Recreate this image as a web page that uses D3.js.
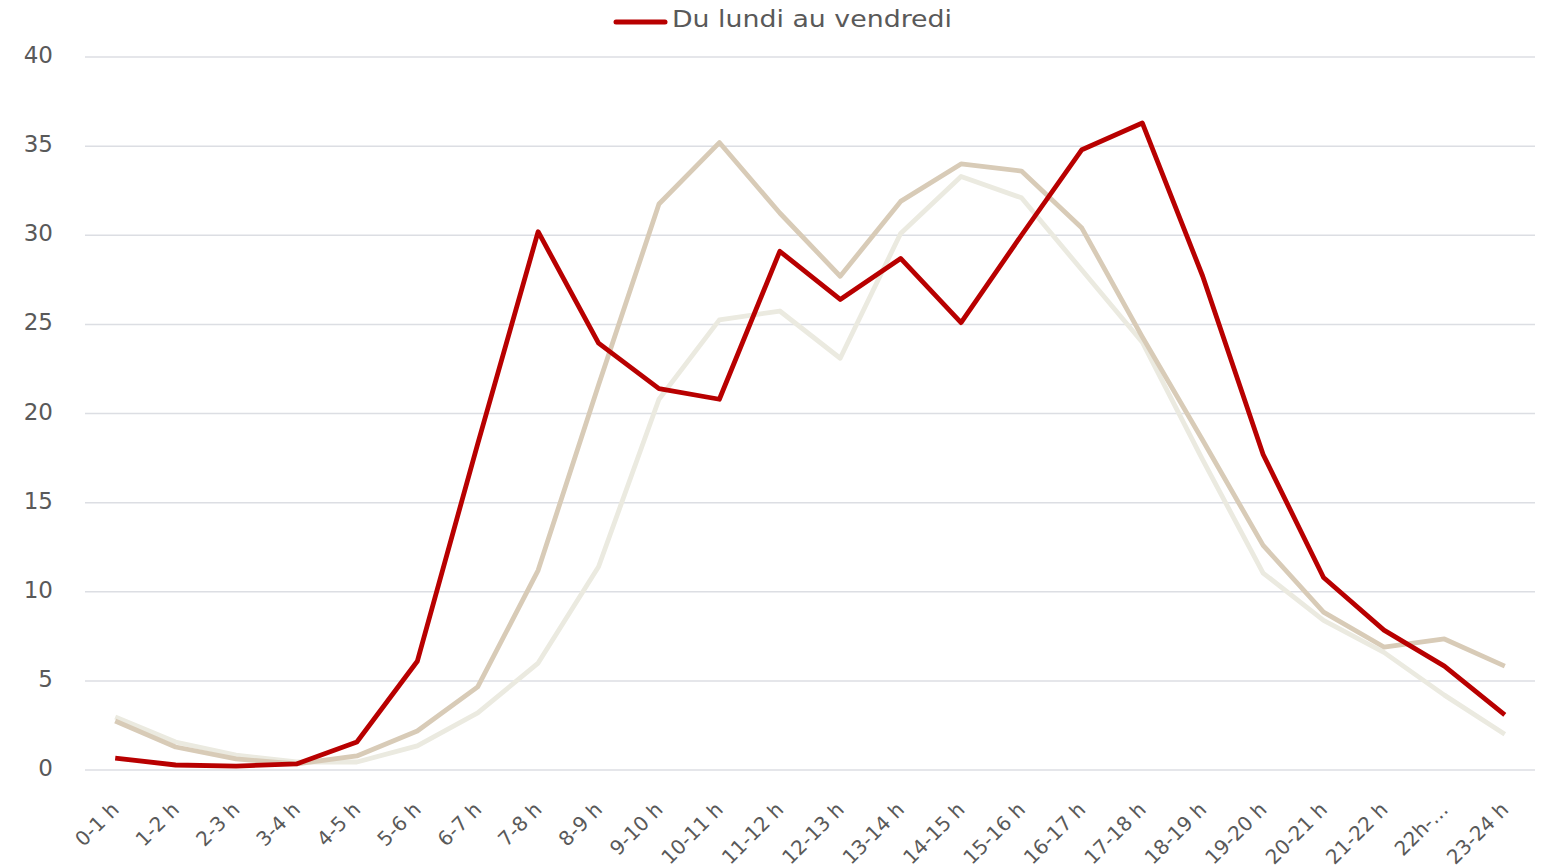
<!DOCTYPE html>
<html>
<head>
  <meta charset="utf-8">
  <script src="https://d3js.org/d3.v7.min.js"></script>
  <style>
    body { margin: 0; background: #fff; }
    text { font-family: "DejaVu Sans", sans-serif; fill: #595959; }
  </style>
</head>
<body>
  <div id="chart"></div>
  <script type="text/javascript">
  var hours = ["0-1 h","1-2 h","2-3 h","3-4 h","4-5 h","5-6 h","6-7 h","7-8 h","8-9 h","9-10 h",
               "10-11 h","11-12 h","12-13 h","13-14 h","14-15 h","15-16 h","16-17 h","17-18 h",
               "18-19 h","19-20 h","20-21 h","21-22 h","22h-…","23-24 h"];
  var semaine = [0.67,0.28,0.22,0.34,1.57,6.1,18.3,30.2,23.95,21.4,20.8,29.1,26.4,28.7,25.1,30.0,34.8,36.3,27.7,17.7,10.8,7.85,5.83,3.09];
  var samedi = [2.75,1.29,0.62,0.34,0.79,2.19,4.66,11.2,21.6,31.75,35.2,31.25,27.7,31.9,34.0,33.6,30.4,24.3,18.5,12.6,8.86,6.9,7.35,5.83];
  var dimanche = [2.97,1.57,0.84,0.45,0.45,1.35,3.2,6.0,11.4,20.8,25.25,25.75,23.1,30.1,33.3,32.1,28.05,24.0,17.4,11.05,8.4,6.6,4.2,2.0];
  var yTicks = [0,5,10,15,20,25,30,35,40];

  var width = 1545, height = 868;
  var svg = d3.select("#chart").append("svg")
      .attr("width", width)
      .attr("height", height);

  var x = d3.scaleBand().domain(hours).range([85, 1535]);
  var y = d3.scaleLinear().domain([0, 40]).range([770, 57]);

  // grid + y labels
  svg.append("g").selectAll("line").data(yTicks).enter().append("line")
      .attr("x1", 85).attr("x2", 1535)
      .attr("y1", function(d) { return y(d); })
      .attr("y2", function(d) { return y(d); })
      .style("stroke", "#dcdee3").style("stroke-width", 1.5);

  svg.append("g").selectAll("text").data(yTicks).enter().append("text")
      .attr("x", 53).attr("y", function(d) { return y(d) - 2; })
      .attr("dy", "0.35em")
      .attr("text-anchor", "end")
      .style("font-size", "23px")
      .text(function(d) { return d; });

  // x labels
  svg.append("g").selectAll("text").data(hours).enter().append("text")
      .attr("transform", function(d) {
        return "translate(" + (x(d) + x.bandwidth() / 2 - 5) + ",801) rotate(-45)";
      })
      .attr("text-anchor", "end")
      .attr("dy", "0.7em")
      .style("font-size", "20px")
      .text(function(d) { return d; });

  var line = d3.line()
      .x(function(d, i) { return x(hours[i]) + x.bandwidth() / 2; })
      .y(function(d) { return y(d); });

  var series = [
    { name: "Dimanche", values: dimanche, color: "#ebeae0" },
    { name: "Samedi", values: samedi, color: "#d8cbb7" },
    { name: "Du lundi au vendredi", values: semaine, color: "#b80000" }
  ];

  svg.append("g").selectAll("path").data(series).enter().append("path")
      .attr("d", function(d) { return line(d.values); })
      .style("fill", "none")
      .style("stroke", function(d) { return d.color; })
      .style("stroke-width", 4.8)
      .style("stroke-linejoin", "round");

  // legend
  var leg = svg.append("g");
  leg.append("line")
      .attr("x1", 616).attr("x2", 665).attr("y1", 22).attr("y2", 22)
      .style("stroke", "#b80000").style("stroke-width", 5)
      .style("stroke-linecap", "round");
  leg.append("text")
      .attr("x", 672).attr("y", 19)
      .attr("dy", "0.35em")
      .attr("textLength", 280)
      .attr("lengthAdjust", "spacingAndGlyphs")
      .style("font-size", "23px")
      .text("Du lundi au vendredi");
  </script>
</body>
</html>
